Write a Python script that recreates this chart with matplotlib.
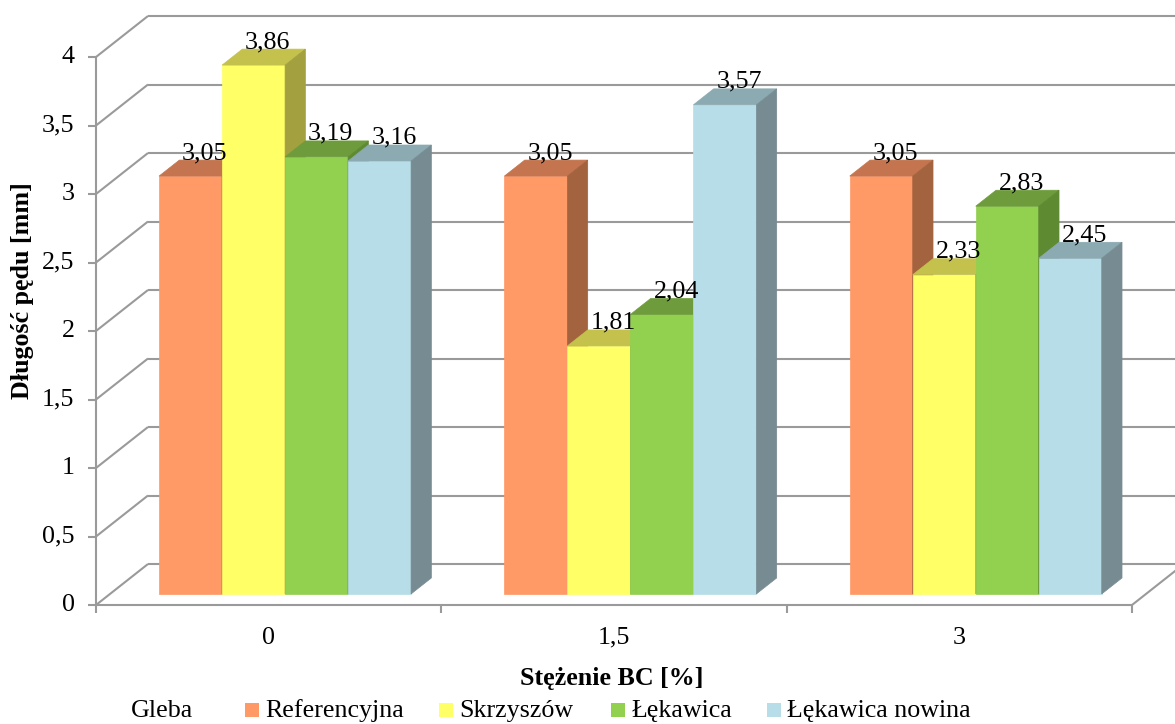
"""
Grouped pseudo-3D bar chart: shoot length vs BC concentration for four soils.
"""

import matplotlib
matplotlib.use("Agg")
import matplotlib.pyplot as plt
from matplotlib.patches import Polygon, Rectangle

CATEGORIES = ["0", "1,5", "3"]
SERIES = ["Referencyjna", "Skrzyszów", "Łękawica", "Łękawica nowina"]
REFERENCYJNA = [3.05, 3.05, 3.05]
SKRZYSZOW = [3.86, 1.81, 2.33]
LEKAWICA = [3.19, 2.04, 2.83]
LEKAWICA_NOWINA = [3.16, 3.57, 2.45]
Y_TICKS = [0, 0.5, 1, 1.5, 2, 2.5, 3, 3.5, 4]

# front, top, side shades for each series
COLORS = [
    ("#FF9966", "#C4754F", "#A3633F"),
    ("#FFFF66", "#C4C24D", "#A3A13F"),
    ("#92D050", "#6E9C3C", "#5E8A32"),
    ("#B7DEE8", "#8BAAB2", "#778C92"),
]
GRID = "#9a9a9a"
FONT = "Liberation Serif"
FS = 18.7

W, H = 1175, 724
X0_PX, X_SCALE = 96, 345.33   # pixel of x=0, pixels per category
Y0_PX, Y_SCALE = 605, 137.0   # pixel of y=0, pixels per mm
DX = 52 / X_SCALE             # depth vector of the floor, data units
DY = 41 / Y_SCALE
D0, D1 = 0.27, 0.66           # bar depth range (fraction of floor depth)
BAR_W = 63 / X_SCALE
GROUP_START = 0.142


def proj(x, y, d):
    """Project (x, value, depth) to 2D data coordinates."""
    return (x + d * DX, y + d * DY)


def main():
    fig = plt.figure(figsize=(W / 100, H / 100), dpi=100)
    ax = fig.add_axes([0, 0, 1, 1])
    ax.set_xlim(-X0_PX / X_SCALE, (W - X0_PX) / X_SCALE)
    ax.set_ylim(-(H - Y0_PX) / Y_SCALE, Y0_PX / Y_SCALE)
    ax.axis("off")

    n_cat = len(CATEGORIES)
    gkw = dict(color=GRID, lw=1.5, solid_capstyle="butt", zorder=1)

    # walls: left diagonals and back-wall gridlines
    for v in Y_TICKS:
        (bx, by) = proj(0, v, 1)
        ax.plot([0, bx], [v, by], **gkw)
        ax.plot([bx, n_cat + DX], [by, by], **gkw)
        ax.plot([-0.023, 0], [v, v], **gkw)
        ax.text(-0.062, v, str(v).replace(".", ","), ha="right", va="center",
                fontsize=FS, family=FONT)
    # front axis and floor edges
    ax.plot([0, 0], [0, Y_TICKS[-1]], **gkw)
    ax.plot([0, n_cat], [0, 0], **gkw)
    ax.plot([n_cat, n_cat + DX], [0, DY], **gkw)
    for k in range(n_cat + 1):
        ax.plot([k, k], [0, -0.058], **gkw)
    for k, lab in enumerate(CATEGORIES):
        ax.text(k + 0.5, -0.24, lab, ha="center", va="center",
                fontsize=FS, family=FONT)

    series = [REFERENCYJNA, SKRZYSZOW, LEKAWICA, LEKAWICA_NOWINA]
    for k in range(n_cat):
        for i, vals in enumerate(series):
            v = vals[k]
            x0 = k + GROUP_START + i * BAR_W
            x1 = x0 + BAR_W
            front, top, side = COLORS[i]
            faces = [
                ([proj(x0, 0, D0), proj(x1, 0, D0), proj(x1, v, D0), proj(x0, v, D0)], front),
                ([proj(x0, v, D0), proj(x1, v, D0), proj(x1, v, D1), proj(x0, v, D1)], top),
                ([proj(x1, 0, D0), proj(x1, 0, D1), proj(x1, v, D1), proj(x1, v, D0)], side),
            ]
            for pts, col in faces:
                ax.add_patch(Polygon(pts, closed=True, facecolor=col,
                                     edgecolor=col, lw=0.5, zorder=2))
            lx, _ = proj((x0 + x1) / 2 + 0.012, v, (D0 + D1) / 2)
            _, ty = proj(0, v, D1)
            ax.text(lx, ty + 0.008, f"{v:.2f}".replace(".", ","),
                    ha="center", va="baseline", fontsize=FS, family=FONT,
                    zorder=3)

    # axis titles
    fig.text(23 / W, 1 - 291 / H, "Długość pędu [mm]", rotation=90,
             ha="center", va="center", fontsize=FS, family=FONT, weight="bold")
    fig.text(612 / W, 1 - 678 / H, "Stężenie BC [%]", ha="center", va="center",
             fontsize=FS, family=FONT, weight="bold")

    # legend row
    ly = 1 - 711 / H
    fig.text(131 / W, ly, "Gleba", ha="left", va="center",
             fontsize=FS, family=FONT)
    for sq_x, name, (front, _, _) in zip([245, 439, 611, 767], SERIES, COLORS):
        fig.add_artist(Rectangle((sq_x / W, 1 - 717 / H), 14 / W, 14 / H,
                                 transform=fig.transFigure, facecolor=front,
                                 edgecolor="none"))
        fig.text((sq_x + 20) / W, ly, name, ha="left", va="center",
                 fontsize=FS, family=FONT)

    fig.savefig("out.png", dpi=100)


if __name__ == "__main__":
    main()
